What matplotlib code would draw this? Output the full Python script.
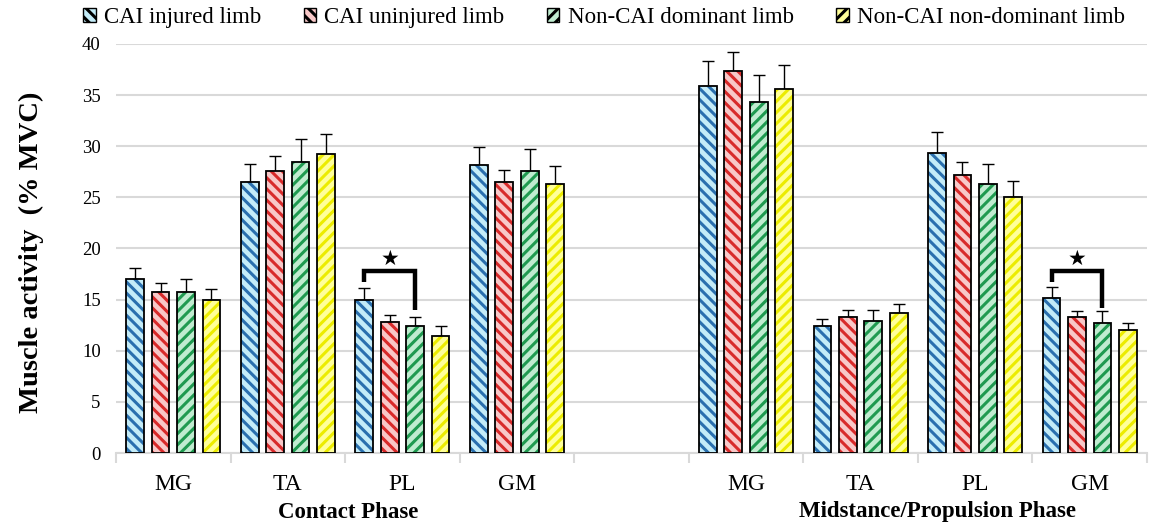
import numpy as np
import matplotlib
matplotlib.use("Agg")
import matplotlib.pyplot as plt
from matplotlib.patches import Patch
from matplotlib.transforms import blended_transform_factory

plt.rcParams['font.family'] = ['Liberation Serif', 'DejaVu Serif']
plt.rcParams['hatch.linewidth'] = 2.2

# ---- data ----
muscles = ["MG", "TA", "PL", "GM"]
phases = ["Contact Phase", "Midstance/Propulsion Phase"]
series_names = ["CAI injured limb", "CAI uninjured limb",
                "Non-CAI dominant limb", "Non-CAI non-dominant limb"]

# values: contact MG, TA, PL, GM, midstance MG, TA, PL, GM
cai_injured     = [17.0, 26.5, 15.0, 28.2, 35.9, 12.4, 29.3, 15.2]
cai_uninjured   = [15.7, 27.6, 12.8, 26.5, 37.4, 13.3, 27.2, 13.3]
noncai_dominant = [15.7, 28.5, 12.4, 27.6, 34.3, 12.9, 26.3, 12.7]
noncai_nondom   = [15.0, 29.2, 11.4, 26.3, 35.6, 13.7, 25.0, 12.0]

err_cai_injured     = [1.1, 1.8, 1.1, 1.7, 2.4, 0.7, 2.1, 1.0]
err_cai_uninjured   = [0.9, 1.4, 0.7, 1.2, 1.8, 0.7, 1.3, 0.6]
err_noncai_dominant = [1.3, 2.2, 0.9, 2.1, 2.7, 1.1, 2.0, 1.2]
err_noncai_nondom   = [1.0, 2.0, 1.0, 1.8, 2.3, 0.9, 1.6, 0.7]

# significance brackets: (phase index, muscle index, top, left leg end, right leg end, star y)
sig_brackets = [(0, 2, 17.8, 16.7, 14.0, 19.0),
                (1, 3, 17.8, 16.7, 14.2, 19.0)]

values = [cai_injured, cai_uninjured, noncai_dominant, noncai_nondom]
errors = [err_cai_injured, err_cai_uninjured, err_noncai_dominant, err_noncai_nondom]

face_colors = ["#c4ecf8", "#f8c8c8", "#c0ecd0", "#ffff9a"]
hatch_colors = ["#2a6fae", "#d82a2a", "#1f9a50", "#ecec00"]
hatches = ["\\\\\\", "\\\\\\", "///", "///"]

fig = plt.figure(figsize=(11.55, 5.26), dpi=100)
ax = fig.add_axes([116/1155, 1-453/526, (1147-116)/1155, (453-44)/526])

# category centers (slot 4 is empty gap)
slot_idx = [0, 1, 2, 3, 5, 6, 7, 8]
centers = np.array(slot_idx) + 0.5
step = 0.222
width = 0.155
offsets = (np.arange(4) - 1.5) * step

for s in range(4):
    x = centers + offsets[s]
    ax.bar(x, values[s], width=width, color=face_colors[s], edgecolor=hatch_colors[s],
           hatch=hatches[s], linewidth=0, zorder=3)
    ax.bar(x, values[s], width=width, fill=False, edgecolor="black", linewidth=1.3, zorder=4)
    ax.errorbar(x, values[s], yerr=[np.zeros(len(x)), errors[s]], fmt="none",
                ecolor="black", elinewidth=1.0, capsize=4.3, capthick=1.0, zorder=2)

# brackets
for ph, mi, top, yl, yr, ys in sig_brackets:
    c = centers[ph*4 + mi]
    xl = c + offsets[0]
    xr = c + offsets[2]
    ax.plot([xl, xl, xr, xr], [yl, top, top, yr], color="black", lw=3.2,
            solid_joinstyle="miter", solid_capstyle="butt", zorder=5)
    ax.text((xl+xr)/2, ys, "★", ha="center", va="center", fontsize=15,
            family=["DejaVu Sans"], zorder=5)

ax.set_xlim(0, 9)
ax.set_ylim(0, 40)
ax.set_yticks(np.arange(0, 41, 5))
ax.yaxis.grid(True, color="#d9d9d9", lw=1.5, zorder=0)
ax.set_axisbelow(True)
ax.tick_params(axis="y", length=0, pad=11, labelsize=13.5)

ax.set_xticks(np.arange(0, 10))
ax.set_xticklabels([])
ax.tick_params(axis="x", which="major", length=7, color="#d9d9d9", width=1.5)
ax.set_xticks(centers, minor=True)
ax.set_xticklabels(muscles + muscles, minor=True)
ax.tick_params(axis="x", which="minor", length=0, pad=15, labelsize=17)

for sp in ["left", "right", "top"]:
    ax.spines[sp].set_visible(False)
ax.spines["bottom"].set_color("#d9d9d9")
ax.spines["bottom"].set_linewidth(1.5)

trans = blended_transform_factory(ax.transData, fig.transFigure)
ax.text(2.03, 1-512/526, phases[0], transform=trans, ha="center", va="center",
        fontsize=16.5, fontweight="bold")
ax.text(7.17, 1-512/526, phases[1], transform=trans, ha="center", va="center",
        fontsize=16.5, fontweight="bold")

fig.text(31/1155, 1-252/526, "Muscle activity  (% MVC)", rotation=90, ha="center",
         va="center", fontsize=20.5, fontweight="bold")

handles = [Patch(facecolor=face_colors[s], edgecolor="black", hatch=hatches[s], linewidth=1.0)
           for s in range(4)]
fig.legend(handles, series_names, loc="center", bbox_to_anchor=(604/1155, 1-18/526),
           ncol=4, frameon=False, fontsize=16.5, handlelength=0.55, handleheight=0.55,
           handletextpad=0.35, columnspacing=1.85)

fig.savefig("out.png", dpi=100)
